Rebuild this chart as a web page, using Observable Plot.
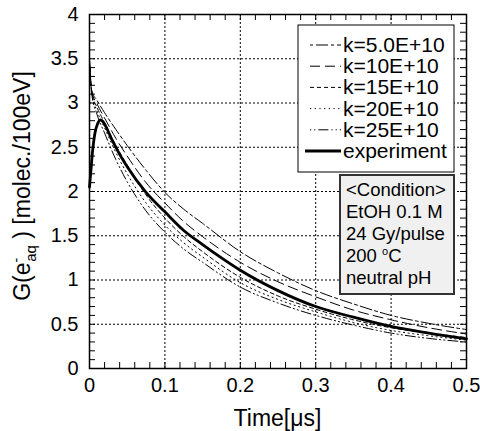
<!DOCTYPE html>
<html><head><meta charset="utf-8">
<script src="https://cdn.jsdelivr.net/npm/d3@7"></script>
<script src="https://cdn.jsdelivr.net/npm/@observablehq/plot@0.6"></script>
<style>
body{margin:0;background:#fff}
svg{font-family:"Liberation Sans",Arial,sans-serif}
</style>
</head><body><div id="chart"></div>
<script>
// ---- data ----
const simTime = [0, 0.003, 0.01, 0.02, 0.035, 0.05, 0.075, 0.1, 0.125, 0.15, 0.2, 0.25, 0.3, 0.35, 0.4, 0.45, 0.5];
const k5  = [3.48, 3.14, 3.03, 2.89, 2.70, 2.52, 2.24, 1.99, 1.80, 1.64, 1.32, 1.08, 0.88, 0.73, 0.60, 0.51, 0.44];
const k10 = [3.48, 3.13, 2.99, 2.83, 2.60, 2.40, 2.10, 1.87, 1.66, 1.49, 1.20, 0.98, 0.81, 0.66, 0.55, 0.46, 0.39];
const k15 = [3.48, 3.12, 2.95, 2.78, 2.52, 2.30, 1.96, 1.70, 1.49, 1.32, 1.03, 0.82, 0.67, 0.55, 0.46, 0.40, 0.35];
const k20 = [3.48, 3.11, 2.91, 2.72, 2.44, 2.20, 1.87, 1.62, 1.42, 1.26, 0.97, 0.78, 0.64, 0.52, 0.43, 0.37, 0.32];
const k25 = [3.48, 3.10, 2.87, 2.66, 2.36, 2.11, 1.78, 1.54, 1.35, 1.20, 0.92, 0.74, 0.60, 0.49, 0.40, 0.34, 0.30];
const expTime = [0, 0.002, 0.004, 0.007, 0.011, 0.015, 0.02, 0.03, 0.04, 0.05, 0.075, 0.1, 0.125, 0.15, 0.175, 0.2, 0.25, 0.3, 0.35, 0.4, 0.45, 0.5];
const expG    = [2.05, 2.25, 2.45, 2.65, 2.77, 2.81, 2.76, 2.58, 2.42, 2.28, 1.99, 1.77, 1.56, 1.40, 1.25, 1.11, 0.88, 0.70, 0.58, 0.475, 0.40, 0.335];
const seriesNames = ["k=5.0E+10", "k=10E+10", "k=15E+10", "k=20E+10", "k=25E+10"];
const seriesValues = [k5, k10, k15, k20, k25];
const expName = "experiment";
const xMajor = [0, 0.1, 0.2, 0.3, 0.4, 0.5];
const xMinor = d3.range(0, 0.5001, 0.02);
const yMajor = [0, 0.5, 1, 1.5, 2, 2.5, 3, 3.5, 4];
const yMinor = d3.range(0, 4.001, 0.1);
const conditionLines = ["<Condition>", "EtOH 0.1 M", "24 Gy/pulse", "200 |oC", "neutral pH"];

// ---- styles ----
const dashes = ["3,3,12,3", "10,5", "4,3", "1.2,3.5", "1.2,3,1.2,3,10,3"];

const W = 480, H = 431, mL = 89, mR = 14, mT = 14, mB = 63;
const innerW = W - mL - mR, innerH = H - mT - mB;

const simData = seriesValues.map((vals, i) => simTime.map((t, j) => ({t, G: vals[j], s: seriesNames[i]})));
const expData = expTime.map((t, j) => ({t, G: expG[j]}));

const plot = Plot.plot({
  width: W, height: H,
  marginLeft: mL, marginRight: mR, marginTop: mT, marginBottom: mB,
  x: {domain: [0, 0.5], label: null},
  y: {domain: [0, 4], label: null},
  style: {fontFamily: "'Liberation Sans', Arial, sans-serif", background: "white"},
  marks: [
    Plot.gridX(xMajor.slice(1, -1), {stroke: "black", strokeOpacity: 1, strokeWidth: 1, strokeDasharray: "2,2"}),
    Plot.gridY(yMajor.slice(1, -1), {stroke: "black", strokeOpacity: 1, strokeWidth: 1, strokeDasharray: "2,2"}),
    Plot.tickX(xMinor, {x: d => d, insetTop: innerH - 6, stroke: "black"}),
    Plot.tickX(xMinor, {x: d => d, insetBottom: innerH - 6, stroke: "black"}),
    Plot.tickY(yMinor, {y: d => d, insetRight: innerW - 6, stroke: "black"}),
    Plot.tickY(yMinor, {y: d => d, insetLeft: innerW - 6, stroke: "black"}),
    ...simData.map((d, i) => Plot.line(d, {x: "t", y: "G", stroke: "black", strokeWidth: 1, strokeDasharray: dashes[i], curve: "monotone-x"})),
    Plot.line(expData, {x: "t", y: "G", stroke: "black", strokeWidth: 2.8, curve: "monotone-x"}),
    Plot.frame({stroke: "black", strokeWidth: 1.5}),
    Plot.axisX({ticks: xMajor, tickSize: 0, tickPadding: 9, tickFormat: d => String(d), fontSize: 20, label: null}),
    Plot.axisY({ticks: yMajor, tickSize: 0, tickPadding: 11, tickFormat: d => String(d), fontSize: 20, label: null})
  ]
});
document.getElementById("chart").appendChild(plot);

const svg = d3.select(plot);
const font = "'Liberation Sans', Arial, sans-serif";

// x axis label
svg.append("text").attr("x", mL + innerW / 2).attr("y", 426).attr("text-anchor", "middle")
  .attr("font-size", 23).attr("font-family", font).attr("fill", "black").text("Time[\u03bcs]");

// y axis label
const yl = svg.append("text").attr("transform", "translate(30,186) rotate(-90)")
  .attr("text-anchor", "middle").attr("font-size", 23).attr("font-family", font).attr("fill", "black");
yl.append("tspan").text("G(e");
yl.append("tspan").attr("font-size", 14).attr("dy", -9).text("-");
yl.append("tspan").attr("font-size", 15).attr("dy", 15).attr("dx", -4).text("aq");
yl.append("tspan").attr("dy", -6).text(" ) [molec./100eV]");

// legend box
const lg = svg.append("g").attr("text-anchor", "start");
lg.append("rect").attr("x", 298).attr("y", 25).attr("width", 156).attr("height", 147)
  .attr("fill", "white").attr("stroke", "black").attr("stroke-width", 1);
const rows = [...seriesNames, expName];
rows.forEach((name, i) => {
  const base = 52 + i * 21.2;
  const isExp = i === rows.length - 1;
  lg.append("line").attr("x1", isExp ? 305 : 310).attr("x2", 341).attr("y1", base - 7).attr("y2", base - 7)
    .attr("stroke", "black").attr("stroke-width", isExp ? 2.8 : 1)
    .attr("stroke-dasharray", isExp ? null : dashes[i]);
  lg.append("text").attr("x", 343).attr("y", base).attr("font-size", 21).attr("font-family", font)
    .attr("text-anchor", "start").attr("fill", "black").text(name);
});

// condition box
const cg = svg.append("g").attr("text-anchor", "start");
cg.append("rect").attr("x", 340).attr("y", 175).attr("width", 114).attr("height", 119)
  .attr("fill", "#f0f0f0").attr("stroke", "#333").attr("stroke-width", 2);
conditionLines.forEach((line, i) => {
  const t = cg.append("text").attr("x", 346).attr("y", 196 + i * 22).attr("font-size", 18.5)
    .attr("font-family", font).attr("text-anchor", "start").attr("fill", "black");
  if (line.includes("|")) {
    const [a, b] = line.split("|");
    t.append("tspan").text(a);
    t.append("tspan").attr("font-size", 11).attr("dy", -7).text(b[0]);
    t.append("tspan").attr("dy", 7).text(b.slice(1));
  } else t.text(line);
});
</script>
</body></html>
